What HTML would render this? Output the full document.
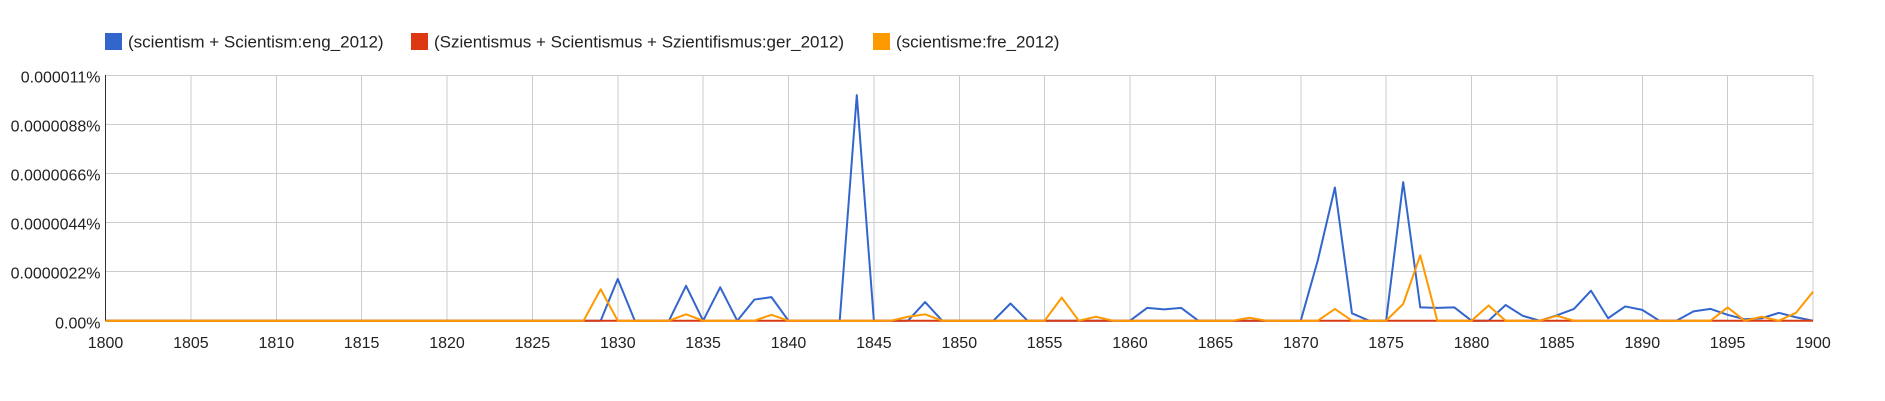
<!DOCTYPE html>
<html>
<head>
<meta charset="utf-8">
<style>
  html, body { margin: 0; padding: 0; background: #fff; }
  body { width: 1885px; height: 401px; overflow: hidden; }
  svg { display: block; }
  text { font-family: "Liberation Sans", Arial, sans-serif; fill: #222; }
</style>
</head>
<body>
<svg width="1885" height="401" viewBox="0 0 1885 401" xmlns="http://www.w3.org/2000/svg">
  <!-- Legend -->
  <rect x="105" y="33" width="17" height="17" fill="#3366cc"/>
  <text x="128" y="47.5" font-size="17">(scientism + Scientism:eng_2012)</text>
  <rect x="411" y="33" width="17" height="17" fill="#dc3912"/>
  <text x="434" y="47.5" font-size="17">(Szientismus + Scientismus + Szientifismus:ger_2012)</text>
  <rect x="873" y="33" width="17" height="17" fill="#ff9900"/>
  <text x="896" y="47.5" font-size="17">(scientisme:fre_2012)</text>

  <!-- Horizontal gridlines -->
  <g stroke="#cccccc" stroke-width="1" shape-rendering="crispEdges">
    <line x1="105.5" y1="75.5" x2="1813" y2="75.5"/>
    <line x1="105.5" y1="124.5" x2="1813" y2="124.5"/>
    <line x1="105.5" y1="173.5" x2="1813" y2="173.5"/>
    <line x1="105.5" y1="222.5" x2="1813" y2="222.5"/>
    <line x1="105.5" y1="271.5" x2="1813" y2="271.5"/>
    <line x1="105.5" y1="320.5" x2="1813" y2="320.5"/>
    <!-- Vertical gridlines -->
    <line x1="190.9" y1="75" x2="190.9" y2="321"/>
    <line x1="276.3" y1="75" x2="276.3" y2="321"/>
    <line x1="361.6" y1="75" x2="361.6" y2="321"/>
    <line x1="447.0" y1="75" x2="447.0" y2="321"/>
    <line x1="532.4" y1="75" x2="532.4" y2="321"/>
    <line x1="617.8" y1="75" x2="617.8" y2="321"/>
    <line x1="703.1" y1="75" x2="703.1" y2="321"/>
    <line x1="788.5" y1="75" x2="788.5" y2="321"/>
    <line x1="873.9" y1="75" x2="873.9" y2="321"/>
    <line x1="959.3" y1="75" x2="959.3" y2="321"/>
    <line x1="1044.6" y1="75" x2="1044.6" y2="321"/>
    <line x1="1130.0" y1="75" x2="1130.0" y2="321"/>
    <line x1="1215.4" y1="75" x2="1215.4" y2="321"/>
    <line x1="1300.8" y1="75" x2="1300.8" y2="321"/>
    <line x1="1386.1" y1="75" x2="1386.1" y2="321"/>
    <line x1="1471.5" y1="75" x2="1471.5" y2="321"/>
    <line x1="1556.9" y1="75" x2="1556.9" y2="321"/>
    <line x1="1642.3" y1="75" x2="1642.3" y2="321"/>
    <line x1="1727.6" y1="75" x2="1727.6" y2="321"/>
    <line x1="1813.0" y1="75" x2="1813.0" y2="321"/>
  </g>

  <!-- Left axis -->
  <line x1="105.5" y1="75" x2="105.5" y2="321" stroke="#333" stroke-width="1"/>

  <!-- Y labels -->
  <g font-size="16" text-anchor="end">
    <text x="100.5" y="82.5">0.000011%</text>
    <text x="100.5" y="131.5">0.0000088%</text>
    <text x="100.5" y="180.5">0.0000066%</text>
    <text x="100.5" y="229.5">0.0000044%</text>
    <text x="100.5" y="278.5">0.0000022%</text>
    <text x="100.5" y="328.3">0.00%</text>
  </g>

  <!-- X labels -->
  <g font-size="16" text-anchor="middle">
    <text x="105.5" y="347.8">1800</text>
    <text x="190.9" y="347.8">1805</text>
    <text x="276.3" y="347.8">1810</text>
    <text x="361.6" y="347.8">1815</text>
    <text x="447.0" y="347.8">1820</text>
    <text x="532.4" y="347.8">1825</text>
    <text x="617.8" y="347.8">1830</text>
    <text x="703.1" y="347.8">1835</text>
    <text x="788.5" y="347.8">1840</text>
    <text x="873.9" y="347.8">1845</text>
    <text x="959.3" y="347.8">1850</text>
    <text x="1044.6" y="347.8">1855</text>
    <text x="1130.0" y="347.8">1860</text>
    <text x="1215.4" y="347.8">1865</text>
    <text x="1300.8" y="347.8">1870</text>
    <text x="1386.1" y="347.8">1875</text>
    <text x="1471.5" y="347.8">1880</text>
    <text x="1556.9" y="347.8">1885</text>
    <text x="1642.3" y="347.8">1890</text>
    <text x="1727.6" y="347.8">1895</text>
    <text x="1813.0" y="347.8">1900</text>
  </g>

  <!-- Series: data coords (year-1800, gridline units) -->
  <g transform="translate(105.5,320.7) scale(17.075,-49.14)" fill="none" stroke-width="2" stroke-linejoin="round">
    <polyline vector-effect="non-scaling-stroke" stroke="#3366cc"
      points="0,0 29,0 30,0.85 31,0 33,0 34,0.71 35,0 36,0.68 37,0 38,0.43 39,0.48 40,0 43,0 44,4.59 45,0 47,0 48,0.38 49,0 52,0 53,0.35 54,0 60,0 61,0.26 62,0.23 63,0.26 64,0 70,0 71,1.23 72,2.71 73,0.15 74,0 75,0 76,2.82 77,0.27 78,0.26 79,0.27 80,0 81,0 82,0.32 83,0.1 84,0 85,0.11 86,0.24 87,0.61 88,0.05 89,0.29 90,0.22 91,0 92,0 93,0.19 94,0.24 95,0.12 96,0.03 97,0.05 98,0.16 99,0.07 100,0"/>
    <polyline vector-effect="non-scaling-stroke" stroke="#dc3912"
      points="0,0 100,0"/>
    <polyline vector-effect="non-scaling-stroke" stroke="#ff9900"
      points="0,0 28,0 29,0.64 30,0 33,0 34,0.13 35,0 38,0 39,0.12 40,0 46,0 47,0.08 48,0.13 49,0 55,0 56,0.47 57,0 58,0.08 59,0 66,0 67,0.06 68,0 71,0 72,0.24 73,0 75,0 76,0.34 77,1.33 78,0 80,0 81,0.31 82,0 84,0 85,0.1 86,0 94,0 95,0.27 96,0 97,0.08 98,0 99,0.16 100,0.59"/>
  </g>
</svg>
</body>
</html>
